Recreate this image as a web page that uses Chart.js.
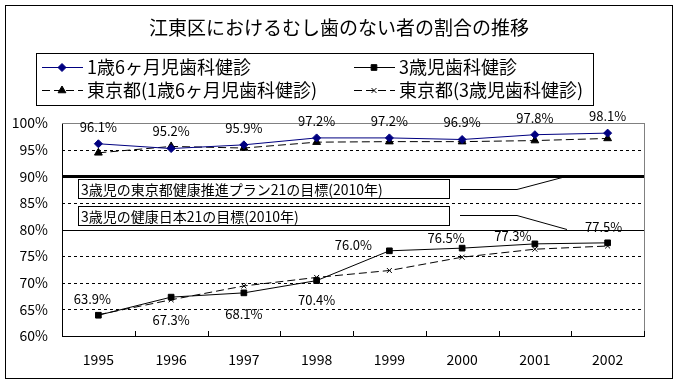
<!DOCTYPE html>
<html>
<head>
<meta charset="utf-8">
<script src="https://cdn.jsdelivr.net/npm/chart.js@4.4.0/dist/chart.umd.min.js"></script>
<style>
    body { margin: 0; background: #fff; }
</style>
</head>
<body>
<canvas id="chart" width="678" height="384"></canvas>
<script>
const years = ['1995', '1996', '1997', '1998', '1999', '2000', '2001', '2002'];
const age18 = [96.1, 95.2, 95.9, 97.2, 97.2, 96.9, 97.8, 98.1];
const age3 = [63.9, 67.3, 68.1, 70.4, 76.0, 76.5, 77.3, 77.5];
const tokyo18 = [94.4, 95.6, 95.3, 96.4, 96.5, 96.5, 96.7, 97.1];
const tokyo3 = [64.0, 66.8, 69.4, 71.0, 72.3, 74.8, 76.3, 76.9];
const seriesNames = ['1歳6ヶ月児歯科健診', '3歳児歯科健診', '東京都(1歳6ヶ月児歯科健診)', '東京都(3歳児歯科健診)'];
const yTicks = [60, 65, 70, 75, 80, 85, 90, 95, 100];
const targetValues = [90, 80];
const targetLabels = ['3歳児の東京都健康推進プラン21の目標(2010年)', '3歳児の健康日本21の目標(2010年)'];
const chartTitle = '江東区におけるむし歯のない者の割合の推移';

const FONT = '"Noto Sans CJK JP", "Noto Sans", sans-serif';
const NAVY = '#000080';

// label placement for each point (dx, dy from the point)
const age18LabelPos = years.map(() => [0, -17]);
const age3LabelPos = [[-6, -16], [0, 23], [0, 21], [0, 19], [-36, -6], [-16, -10], [-22, -8], [-4, -16]];

const pct = v => v.toFixed(1) + '%';

const decorPlugin = {
    id: 'decor',
    beforeDraw(chart) {
        const ctx = chart.ctx;
        ctx.save();
        ctx.fillStyle = '#fff';
        ctx.fillRect(0, 0, chart.width, chart.height);
        ctx.strokeStyle = '#000';
        ctx.lineWidth = 1;
        ctx.strokeRect(5.5, 5.5, 667, 373);
        ctx.restore();
    },
    beforeDatasetsDraw(chart) {
        const ctx = chart.ctx;
        const ys = chart.scales.y;
        const xs = chart.scales.x;
        const { left, right, top, bottom } = chart.chartArea;
        ctx.save();
        yTicks.forEach(v => {
            if (v === ys.min) return;
            const y = Math.round(ys.getPixelForValue(v)) + 0.5;
            ctx.beginPath();
            ctx.setLineDash([]);
            ctx.lineWidth = 1;
            ctx.strokeStyle = '#000';
            if (v === ys.max) {
                ctx.strokeStyle = '#808080';
            } else if (v === targetValues[0]) {
                ctx.lineWidth = 3;
            } else if (v === targetValues[1]) {
                ctx.lineWidth = 1;
            } else {
                ctx.setLineDash([3, 3]);
            }
            ctx.moveTo(left, y);
            ctx.lineTo(right, y);
            ctx.stroke();
        });
        // right edge of the plot
        ctx.setLineDash([]);
        ctx.lineWidth = 1;
        ctx.strokeStyle = '#808080';
        ctx.beginPath();
        ctx.moveTo(Math.round(right) + 0.5, top);
        ctx.lineTo(Math.round(right) + 0.5, bottom);
        ctx.stroke();

        // tick marks between years, pointing into the plot
        ctx.strokeStyle = '#000';
        ctx.beginPath();
        for (let i = 1; i <= years.length; i++) {
            let x = i < years.length
                ? (xs.getPixelForValue(i - 1) + xs.getPixelForValue(i)) / 2
                : right;
            x = Math.round(x) + 0.5;
            ctx.moveTo(x, bottom);
            ctx.lineTo(x, bottom - 5);
        }
        ctx.stroke();

        // target boxes with connector lines
        const y90 = ys.getPixelForValue(targetValues[0]);
        const y80 = ys.getPixelForValue(targetValues[1]);
        const y85 = ys.getPixelForValue(85);
        const boxes = [
            { top: y90 + 3, target: y90 },
            { top: y85 + 3, target: y80 }
        ];
        ctx.font = '14px ' + FONT;
        ctx.textBaseline = 'middle';
        boxes.forEach((b, i) => {
            const bx = left + 16;
            const bw = 371;
            const bh = 19;
            ctx.fillStyle = '#fff';
            ctx.fillRect(bx, Math.round(b.top), bw, bh);
            ctx.strokeStyle = '#000';
            ctx.lineWidth = 1;
            ctx.strokeRect(bx + 0.5, Math.round(b.top) + 0.5, bw, bh);
            ctx.fillStyle = '#000';
            ctx.fillText(targetLabels[i], bx + 3, b.top + bh / 2 + 1);
            const ly = Math.round(b.top + bh / 2) + 0.5;
            ctx.beginPath();
            ctx.moveTo(bx + bw + 11, ly);
            ctx.lineTo(bx + bw + 68, ly);
            ctx.lineTo(left + 505, b.target);
            ctx.stroke();
        });
        ctx.restore();
    },
    afterDatasetsDraw(chart) {
        const ctx = chart.ctx;
        ctx.save();
        ctx.font = '13px ' + FONT;
        ctx.fillStyle = '#000';
        ctx.textAlign = 'center';
        ctx.textBaseline = 'middle';
        [[0, age18, age18LabelPos], [1, age3, age3LabelPos]].forEach(([di, vals, pos]) => {
            const meta = chart.getDatasetMeta(di);
            meta.data.forEach((pt, i) => {
                ctx.fillText(pct(vals[i]), pt.x + pos[i][0], pt.y + pos[i][1]);
            });
        });
        ctx.restore();
    },
    afterDraw(chart) {
        const ctx = chart.ctx;
        ctx.save();
        ctx.fillStyle = '#000';
        ctx.textBaseline = 'middle';
        ctx.textAlign = 'center';
        ctx.font = '19px ' + FONT;
        ctx.fillText(chartTitle, 339, 28);

        // legend
        ctx.textAlign = 'left';
        ctx.font = '18px ' + FONT;
        const cols = [42, 354];
        const rows = [67, 90];
        let maxRight = 0;
        chart.data.datasets.forEach((ds, i) => {
            const x = cols[i % 2];
            const y = rows[Math.floor(i / 2)] + 0.5;
            ctx.strokeStyle = ds.borderColor;
            ctx.lineWidth = 1;
            ctx.setLineDash(ds.borderDash || []);
            ctx.beginPath();
            ctx.moveTo(x, y);
            ctx.lineTo(x + 41, y);
            ctx.stroke();
            ctx.setLineDash([]);
            ctx.fillStyle = ds.pointBackgroundColor;
            Chart.helpers.drawPoint(ctx, {
                pointStyle: ds.pointStyle,
                radius: ds.pointRadius,
                rotation: 0,
                borderWidth: 1
            }, x + 20, y);
            ctx.fillStyle = '#000';
            ctx.fillText(ds.label, x + 45, y);
            maxRight = Math.max(maxRight, x + 45 + ctx.measureText(ds.label).width);
        });
        ctx.strokeStyle = '#000';
        ctx.lineWidth = 1;
        ctx.strokeRect(36.5, 53.5, Math.round(maxRight + 10 - 36), 52);
        ctx.restore();
    }
};

new Chart(document.getElementById('chart'), {
    type: 'line',
    data: {
        labels: years,
        datasets: [
            {
                label: seriesNames[0],
                data: age18,
                borderColor: NAVY,
                pointBackgroundColor: NAVY,
                pointBorderColor: NAVY,
                pointStyle: 'rectRot',
                pointRadius: 4
            },
            {
                label: seriesNames[1],
                data: age3,
                borderColor: '#000',
                pointBackgroundColor: '#000',
                pointBorderColor: '#000',
                pointStyle: 'rect',
                pointRadius: 4
            },
            {
                label: seriesNames[2],
                data: tokyo18,
                borderColor: '#000',
                borderDash: [8, 4],
                pointBackgroundColor: '#000',
                pointBorderColor: '#000',
                pointStyle: 'triangle',
                pointRadius: 4.5
            },
            {
                label: seriesNames[3],
                data: tokyo3,
                borderColor: '#000',
                borderDash: [8, 4],
                pointBackgroundColor: '#000',
                pointBorderColor: '#000',
                pointStyle: 'crossRot',
                pointRadius: 3.5
            }
        ]
    },
    options: {
        responsive: false,
        animation: false,
        layout: { padding: { left: 0, top: 123, right: 34, bottom: 0 } },
        elements: {
            line: { borderWidth: 1, tension: 0 },
            point: { borderWidth: 1, hoverRadius: 4 }
        },
        plugins: {
            legend: { display: false },
            title: { display: false },
            tooltip: { enabled: false }
        },
        scales: {
            x: {
                offset: true,
                grid: { display: false, drawTicks: false },
                border: { display: true, color: '#000', width: 1 },
                ticks: {
                    color: '#000',
                    padding: 15,
                    maxRotation: 0,
                    font: { family: FONT, size: 14 }
                },
                afterFit(scale) { scale.height = 48; }
            },
            y: {
                min: 60,
                max: 100,
                grid: { display: false, drawTicks: false },
                border: { display: true, color: '#000', width: 1 },
                ticks: {
                    stepSize: 5,
                    color: '#000',
                    padding: 14,
                    font: { family: FONT, size: 14 },
                    callback: v => v + '%'
                },
                afterFit(scale) { scale.width = 62; }
            }
        }
    },
    plugins: [decorPlugin]
});
</script>
</body>
</html>
